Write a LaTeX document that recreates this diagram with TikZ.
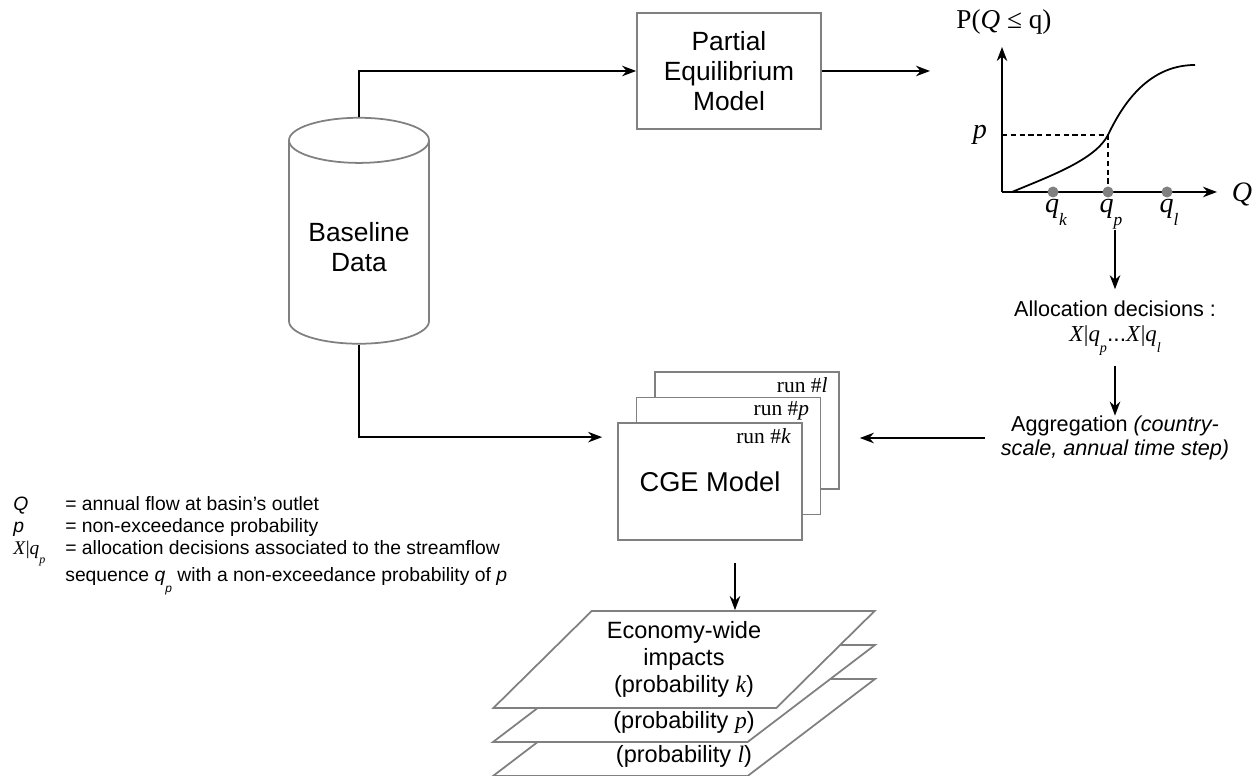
\documentclass[tikz,border=0pt]{standalone}
\usepackage{graphicx}
\usepackage{fontspec}
\setmainfont{Liberation Sans}
\newfontfamily\tms{Liberation Serif}
\usetikzlibrary{shapes.geometric,arrows.meta,positioning}
\definecolor{boxgray}{RGB}{128,128,128}
\newcommand{\vr}[1]{{\tms\itshape #1}}
\newcommand{\sbs}[1]{\raisebox{-1ex}{\scalebox{0.62}{#1}}}
\newcommand{\xq}[1]{{\tms\itshape X\/\upshape|\itshape q\sbs{#1}}}

\begin{document}
\begin{tikzpicture}[x=0.02cm, y=-0.02cm,
    box/.style={draw=boxgray, line width=1pt, fill=white, align=center},
    txt/.style={inner sep=0pt, align=center},
    arr/.style={line width=1pt, -{Stealth[length=8pt, width=6pt]}},
    big/.style={font=\fontsize{15}{17}\selectfont},
    mid/.style={font=\fontsize{12.3}{13.6}\selectfont},
    stk/.style={font=\fontsize{13.4}{15.6}\selectfont},
    lay/.style={trapezium, trapezium left angle=45, trapezium right angle=135,
        trapezium stretches=true, draw=boxgray, line width=1pt, fill=white,
        minimum width=7.64cm, minimum height=1.94cm, align=center}]
\useasboundingbox (0,0) rectangle (1258,776);

% Partial equilibrium model and baseline data
\node[box, big, minimum width=3.68cm, minimum height=2.32cm] (pem) at (729,71) {Partial\\Equilibrium\\Model};
\node[cylinder, shape border rotate=90, aspect=0.4, draw=boxgray, line width=1pt, big, align=center,
    minimum width=2.8cm, minimum height=4.52cm] (bsl) at (359,247) {Baseline\\Data};

% Distribution of the annual flow
\draw[arr] (1002,192) -- (1002,47);
\draw[arr] (1002,192) -- (1217,192);
\draw[line width=1pt] (1012,192) .. controls (1050,176) and (1095,160) .. (1108,135)
    .. controls (1120,110) and (1145,65) .. (1195,65);
\draw[line width=1pt, dash pattern=on 3pt off 2pt] (1002,135) -| (1108,192);
\foreach \x in {1053,1108,1167}
    \fill[boxgray] (\x,192) circle[radius=0.11cm];
\node[txt, font=\tms\fontsize{15.5}{18}\selectfont] (pq) at (1004,22) {P(\textit{Q} ≤ q)};
\node[txt, font=\tms\fontsize{16}{18}\selectfont] (lp) at (980,135) {\textit{p}};
\node[txt, font=\tms\fontsize{16}{18}\selectfont] (lQ) at (1242,194) {\textit{Q}};
\node[txt, font=\tms\fontsize{16}{18}\selectfont, anchor=base] (lqk) at (1056,213) {\vr{q}\sbs{\vr{k}}};
\node[txt, font=\tms\fontsize{16}{18}\selectfont, anchor=base] (lqp) at (1111,213) {\vr{q}\sbs{\vr{p}}};
\node[txt, font=\tms\fontsize{16}{18}\selectfont, anchor=base] (lql) at (1169,213) {\vr{q}\sbs{\vr{l}}};
\coordinate (cdf) at (930,71);
\coordinate (grf) at (1115,230);

% Allocation and aggregation
\node[txt, mid, align=center] (alloc) at (1115,328) {Allocation decisions :\\[1pt]
    {\fontsize{13}{15}\selectfont\xq{p}...\xq{l}}};
\node[txt, mid, align=center] (agg) at (1115,438) {Aggregation \textit{(country-}\\\textit{scale, annual time step)}};

% CGE model runs
\foreach \n/\s/\r in {cgel/37/l, cgep/18.5/p} {
    \node[box, minimum width=3.68cm, minimum height=2.34cm] (\n) at (710+\s, 481.5-1.38*\s) {};
    \node[txt, anchor=east, font=\tms\fontsize{12.2}{14}\selectfont] at ([shift={(-12,14)}]\n.north east) {run \#\vr{\r}};
}
\node[box, font=\fontsize{15.5}{17}\selectfont, minimum width=3.68cm, minimum height=2.34cm] (cge) at (710,481.5) {CGE Model};
\node[txt, anchor=east, font=\tms\fontsize{12.2}{14}\selectfont] at ([shift={(-12,14)}]cge.north east) {run \#\vr{k}};

% Economy-wide impacts
\node[lay] (ecol) at (684,727.5) {};
\node[lay] (ecop) at (684,693.5) {};
\node[lay, stk] (eco) at (684,659.5) {Economy-wide\\impacts\\(probability \vr{k})};
\node[txt, stk] (tp) at (684,722) {(probability \vr{p})};
\node[txt, stk] (tl) at (684,756) {(probability \vr{l})};

% Connectors
\draw[arr] (bsl.top) |- (pem.west);
\draw[arr] (pem.east) -- (cdf);
\draw[arr] (bsl.bottom) |- ([shift={(-15,15)}]cge.north west);
\draw[arr, shorten >=0.22cm] (grf) -- (alloc);
\draw[arr, shorten <=0.2cm] (alloc) -- (agg);
\draw[arr, shorten <=0.32cm] (agg.west) -- ([xshift=0.4cm]agg.west -| cgel.east);
\draw[arr, shorten <=0.44cm] ([xshift=0.5cm]cge.south) -- ([xshift=0.5cm]cge.south |- eco.north);

% Legend
\node[txt, anchor=north west, font=\fontsize{11}{12.5}\selectfont, align=left] (lgd) at (13,495) {%
    \begin{tabular}{@{}p{1.04cm}@{}l@{}}
    \textit{Q} & = annual flow at basin’s outlet\\
    \textit{p} & = non-exceedance probability\\
    \xq{p} & = allocation decisions associated to the streamflow\\[3pt]
     & sequence \textit{q}\sbs{\textit{p}} with a non-exceedance probability of \textit{p}
    \end{tabular}};

\end{tikzpicture}
\end{document}
